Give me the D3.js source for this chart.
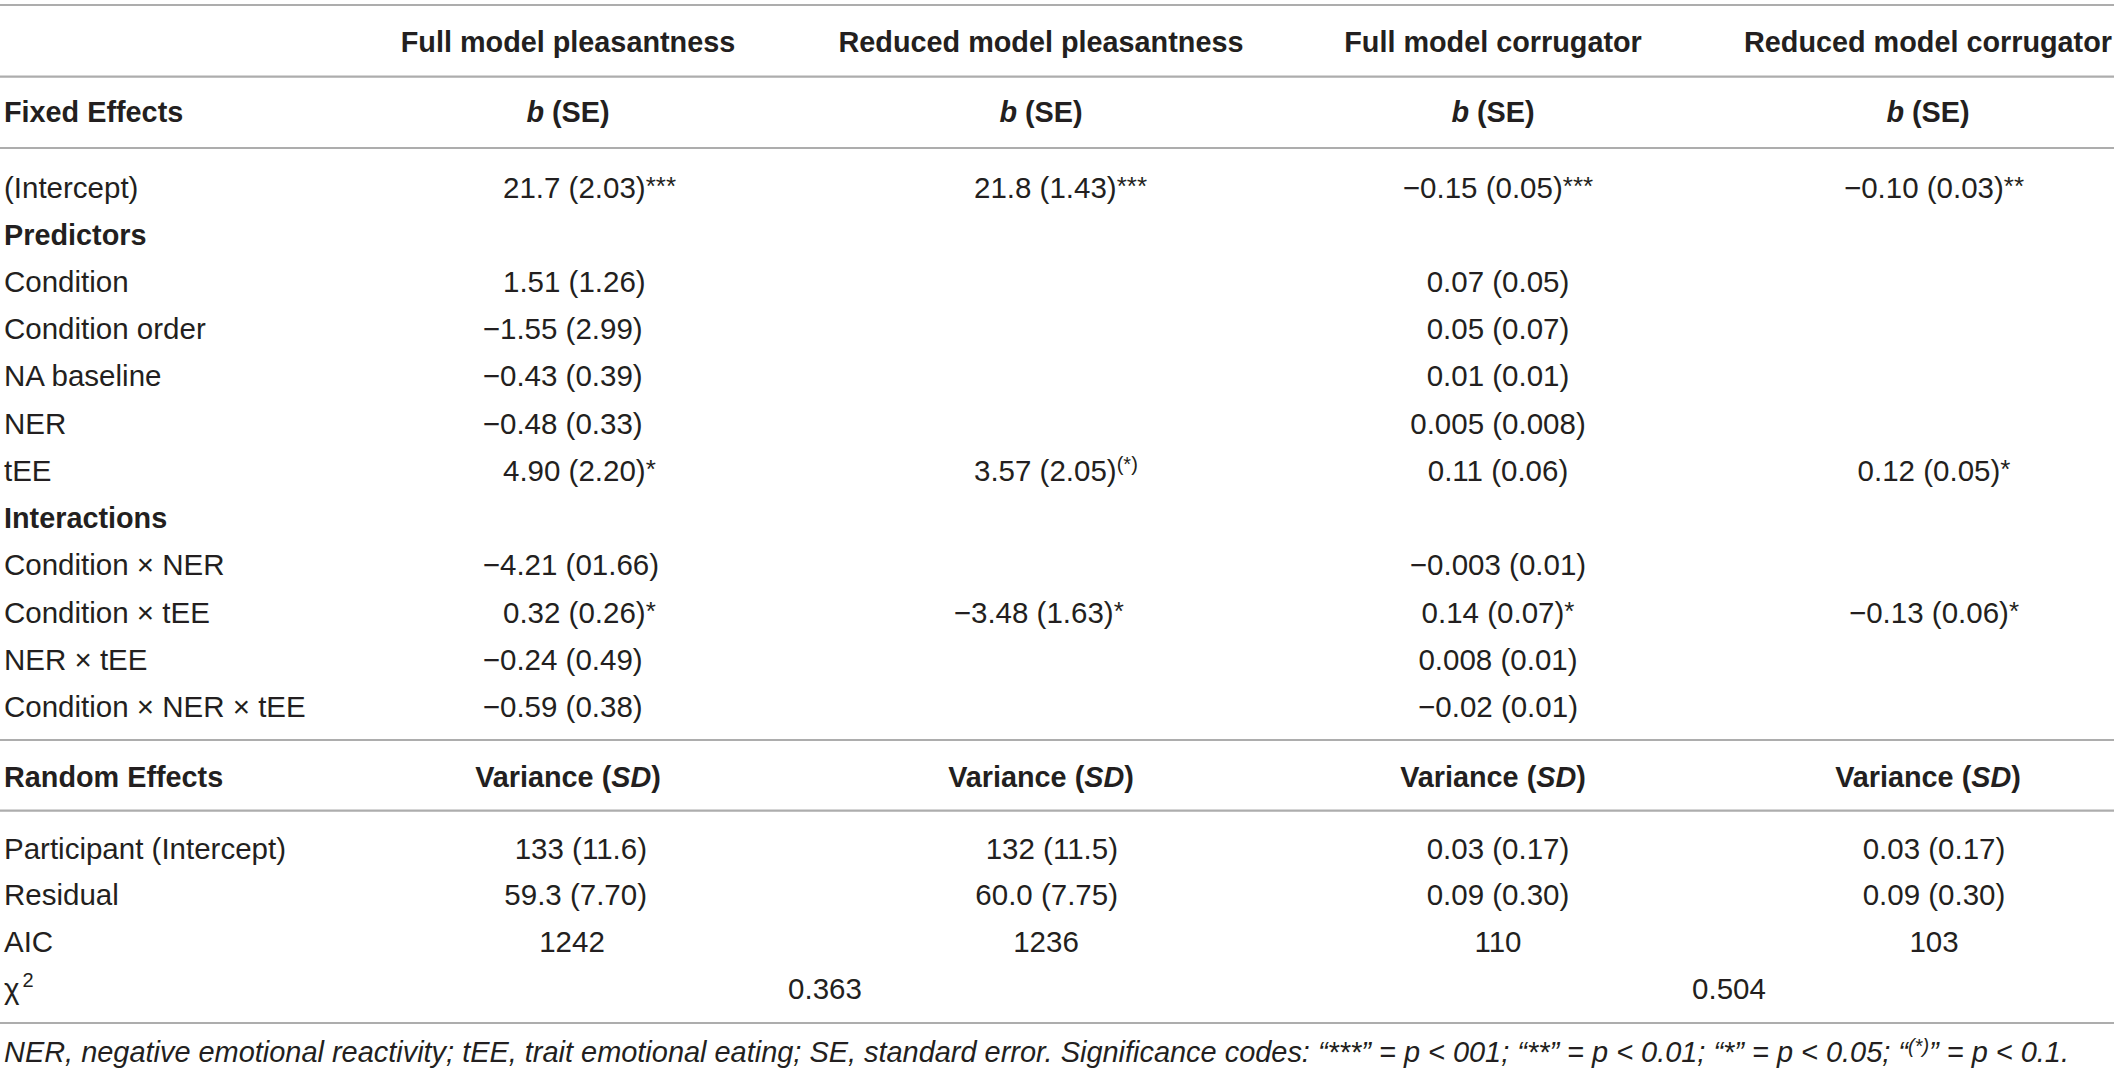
<!DOCTYPE html>
<html><head><meta charset="utf-8">
<script src="https://cdn.jsdelivr.net/npm/d3@7"></script>
<style>body{margin:0;background:#fff}svg{display:block}</style>
</head><body>
<svg id="c" width="2122" height="1078"></svg>
<script>
// ---------- data ----------
const colHeaders = ["Full model pleasantness","Reduced model pleasantness","Full model corrugator","Reduced model corrugator"];
const rowLabels = ["(Intercept)","Predictors","Condition","Condition order","NA baseline","NER","tEE","Interactions","Condition × NER","Condition × tEE","NER × tEE","Condition × NER × tEE"];
const groupRows = ["Predictors","Interactions"];
const fullPleasB   = ["21.7 (2.03)",null,"1.51 (1.26)","−1.55 (2.99)","−0.43 (0.39)","−0.48 (0.33)","4.90 (2.20)",null,"−4.21 (01.66)","0.32 (0.26)","−0.24 (0.49)","−0.59 (0.38)"];
const fullPleasSig = ["***","","","","","","*","","","*","",""];
const redPleasB    = ["21.8 (1.43)",null,null,null,null,null,"3.57 (2.05)",null,null,"−3.48 (1.63)",null,null];
const redPleasSig  = ["***","","","","","","(*)","","","*","",""];
const fullCorrB    = ["−0.15 (0.05)",null,"0.07 (0.05)","0.05 (0.07)","0.01 (0.01)","0.005 (0.008)","0.11 (0.06)",null,"−0.003 (0.01)","0.14 (0.07)","0.008 (0.01)","−0.02 (0.01)"];
const fullCorrSig  = ["***","","","","","","","","","*","",""];
const redCorrB     = ["−0.10 (0.03)",null,null,null,null,null,"0.12 (0.05)",null,null,"−0.13 (0.06)",null,null];
const redCorrSig   = ["**","","","","","","*","","","*","",""];
const randomLabels = ["Participant (Intercept)","Residual","AIC"];
const fullPleasRand = ["133 (11.6)","59.3 (7.70)","1242"];
const redPleasRand  = ["132 (11.5)","60.0 (7.75)","1236"];
const fullCorrRand  = ["0.03 (0.17)","0.09 (0.30)","110"];
const redCorrRand   = ["0.03 (0.17)","0.09 (0.30)","103"];
const chiSquare = ["0.363","0.504"];
const footnote = "NER, negative emotional reactivity; tEE, trait emotional eating; SE, standard error. Significance codes: “***” = p < 001; “**” = p < 0.01; “*” = p < 0.05; “";
const footnoteEnd = "” = p < 0.1.";

// ---------- layout ----------
const FS = 29.5, FSB = 28.8, INK = "#231f20", FONT = "'Liberation Sans', Arial, Helvetica, sans-serif";
const svg = d3.select("#c").attr("font-family", FONT).attr("fill", INK);
const cols = ["fp","rp","fc","rc"];
const xHead = d3.scaleOrdinal().domain(cols).range([568,1041,1493,1928]);
const xCenter = d3.scaleOrdinal().domain(cols).range([572,1046,1498,1934]);
const xLeft = d3.scaleOrdinal().domain(cols).range([503,974,null,null]);
const xRight = d3.scaleOrdinal().domain(cols).range([647,1118,null,null]);
const yFixed = d3.scaleLinear().domain([0,rowLabels.length-1]).range([187,706.7]);
const yRand = d3.scaleLinear().domain([0,3]).range([848,988]);
const base = y => y + 10.5;
const labelX = 4;

// rules
const rules = [5,76.7,148,740,810.7,1023];
svg.append("g").selectAll("line").data(rules).join("line")
  .attr("x1",0).attr("x2",2114).attr("y1",d=>d).attr("y2",d=>d)
  .attr("stroke","#adadad").attr("stroke-width",2.2);

// header row
svg.append("g").selectAll("text").data(colHeaders).join("text")
  .attr("x",(d,i)=>xHead(cols[i])).attr("y",base(41.7)).attr("text-anchor","middle")
  .attr("font-weight","bold").attr("font-size",FSB).text(d=>d);

function subHeader(y, label, kind){
  svg.append("text").attr("x",labelX).attr("y",base(y)).attr("font-weight","bold").attr("font-size",FSB).text(label);
  cols.forEach(c=>{
    const t = svg.append("text").attr("x",xHead(c)).attr("y",base(y)).attr("text-anchor","middle")
      .attr("font-weight","bold").attr("font-size",FSB);
    if(kind==="b"){ t.append("tspan").attr("font-style","italic").text("b"); t.append("tspan").text(" (SE)"); }
    else { t.append("tspan").text("Variance ("); t.append("tspan").attr("font-style","italic").text("SD"); t.append("tspan").text(")"); }
  });
}
subHeader(111.7,"Fixed Effects","b");
subHeader(776,"Random Effects","v");

// fixed-effect labels
svg.append("g").selectAll("text").data(rowLabels).join("text")
  .attr("x",labelX).attr("y",(d,i)=>base(yFixed(i)))
  .attr("font-size",d=>groupRows.includes(d)?FSB:FS)
  .attr("font-weight",d=>groupRows.includes(d)?"bold":"normal").text(d=>d);

function addSig(t, sig){
  if(!sig) return;
  if(sig==="(*)"){
    t.append("tspan").attr("font-size",20).attr("dy",-9.5).text(sig);
  } else {
    t.append("tspan").attr("font-size",26).attr("dy",-3).text(sig);
  }
}
const minusW = (()=>{const t=svg.append("text").attr("font-size",FS).text("−");const w=t.node().getComputedTextLength();t.remove();return w;})();
function cell(col, val, sig, y, mode){
  if(val==null) return;
  const t = svg.append("text").attr("y",base(y)).attr("font-size",FS);
  if(mode==="left"){
    const neg = val.startsWith("−");
    t.attr("x", xLeft(col) - (neg?minusW+3:0)).attr("text-anchor","start");
  } else if(mode==="right"){
    t.attr("x", xRight(col)).attr("text-anchor","end");
  } else {
    t.attr("x", xCenter(col)).attr("text-anchor","middle");
  }
  t.append("tspan").text(val);
  addSig(t, sig);
}
const fixedCols = [["fp",fullPleasB,fullPleasSig,"left"],["rp",redPleasB,redPleasSig,"left"],["fc",fullCorrB,fullCorrSig,"center"],["rc",redCorrB,redCorrSig,"center"]];
fixedCols.forEach(([c,vals,sigs,mode])=>vals.forEach((v,i)=>cell(c,v,sigs[i],yFixed(i),mode)));

// random effects
svg.append("g").selectAll("text").data(randomLabels).join("text")
  .attr("x",labelX).attr("y",(d,i)=>base(yRand(i))).attr("font-size",FS).text(d=>d);
const randCols = [["fp",fullPleasRand],["rp",redPleasRand],["fc",fullCorrRand],["rc",redCorrRand]];
randCols.forEach(([c,vals])=>vals.forEach((v,i)=>{
  const mode = (i<2 && (c==="fp"||c==="rp")) ? "right" : "center";
  cell(c,v,"",yRand(i),mode);
}));

// chi-square row
const chi = svg.append("text").attr("x",labelX).attr("y",base(yRand(3))).attr("font-size",FS);
chi.append("tspan").text("χ");
chi.append("tspan").attr("font-size",20).attr("dy",-12).attr("dx",3).text("2");
const xChi = d3.scaleOrdinal().domain(["pleasantness","corrugator"]).range([825,1729]);
svg.append("g").selectAll("text").data(chiSquare).join("text")
  .attr("x",(d,i)=>xChi(i?"corrugator":"pleasantness")).attr("y",base(yRand(3)))
  .attr("text-anchor","middle").attr("font-size",FS).text(d=>d);

// footnote
const fn = svg.append("text").attr("x",labelX).attr("y",1062).attr("font-style","italic").attr("font-size",26);
fn.append("tspan").text(footnote);
fn.append("tspan").attr("font-size",18).attr("dy",-9).text("(*)");
fn.append("tspan").attr("dy",9).text(footnoteEnd);
const w = fn.node().getComputedTextLength();
const target = 2066;
fn.attr("font-size", 26*target/w);
fn.selectAll("tspan").filter((d,i)=>i===1).attr("font-size",18*target/w);
</script>
</body></html>
